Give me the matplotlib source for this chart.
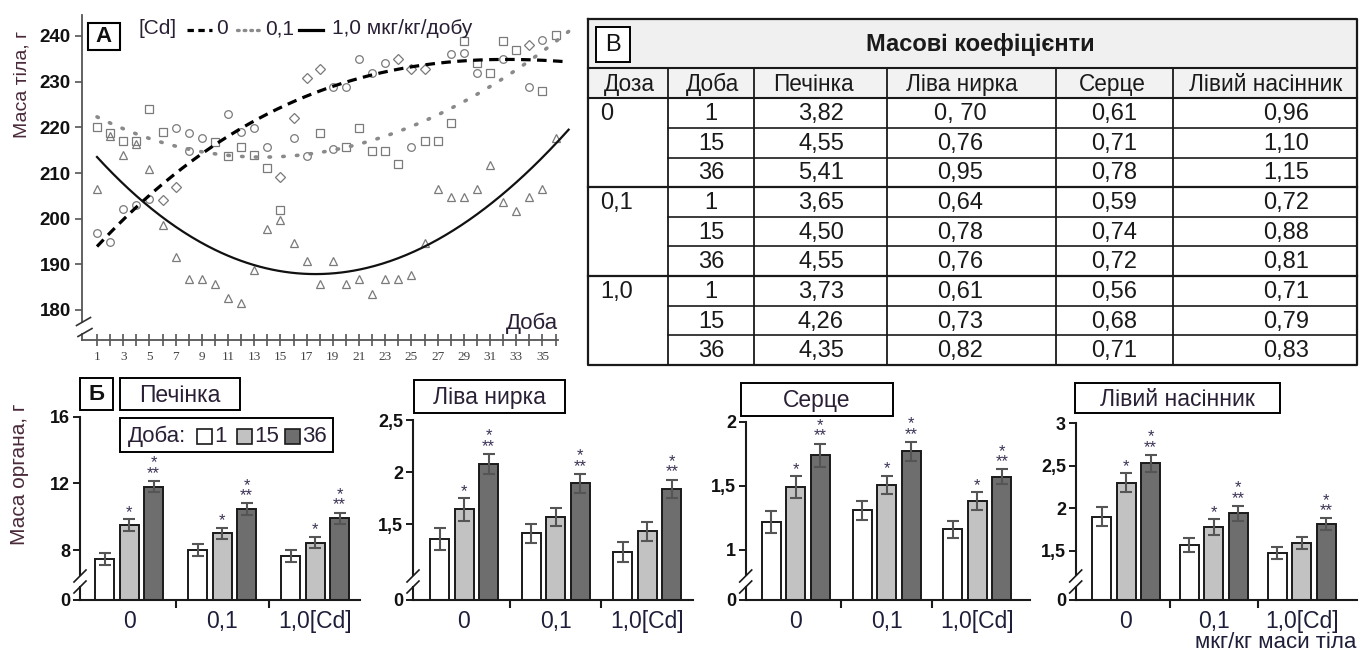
import numpy as np
import matplotlib
matplotlib.use('Agg')
import matplotlib.pyplot as plt
from matplotlib.lines import Line2D
from matplotlib.patches import Rectangle
from matplotlib.transforms import Affine2D

plt.rcParams['font.family'] = ['Liberation Sans', 'DejaVu Sans']

# ---------------- Panel A data (body mass, g) ----------------
circ_day = [1, 2, 3, 4, 5, 7, 8, 8, 9, 11, 12, 13, 14, 16, 17, 19, 19, 20, 21, 22, 23, 25, 28, 29, 30, 32, 34, 35]
circ_val = [196.9, 194.8, 202.1, 203.0, 204.2, 219.8, 218.8, 214.8, 217.7, 222.9, 218.9, 219.9, 215.8, 217.7,
            213.8, 228.8, 215.2, 228.8, 234.9, 231.8, 234.0, 215.8, 236.0, 236.2, 232.0, 234.9, 228.9, 239.1]
diam_day = [6, 7, 15, 16, 17, 18, 24, 25, 26, 34]
diam_val = [204.0, 207.0, 209.2, 222.0, 230.7, 232.7, 234.9, 232.7, 232.7, 238.0]
sq_day = [1, 2, 3, 4, 5, 6, 10, 11, 12, 13, 14, 15, 18, 20, 21, 22, 23, 24, 26, 27, 28, 29, 30, 31, 32, 33, 35, 36]
sq_val = [220.0, 218.8, 216.9, 216.9, 224.0, 219.0, 216.7, 213.8, 215.8, 213.9, 211.0, 202.0, 218.8, 215.8,
          219.9, 214.9, 214.9, 212.0, 216.9, 216.9, 220.9, 238.8, 234.0, 232.0, 238.8, 236.9, 228.0, 240.2]
tri_day = list(range(1, 37))
tri_val = [206.6, 218.0, 214.0, 216.3, 210.9, 198.6, 191.6, 186.8, 186.8, 185.6, 182.6, 181.6, 188.8, 197.7,
           199.7, 194.6, 190.8, 185.6, 190.8, 185.6, 186.7, 183.5, 186.7, 186.7, 187.7, 194.7, 206.6, 204.7,
           204.7, 206.6, 211.8, 203.7, 201.7, 204.7, 206.6, 217.6]

# trend lines (dose 0, 0.1, 1.0)
trend0_day = [1, 5, 10, 15, 20, 25, 30, 37]
trend0_val = [194.0, 205.0, 216.0, 224.5, 230.0, 233.3, 234.5, 234.4]
trend01_day = [1, 4.5, 11, 15, 19, 25, 30, 37]
trend01_val = [222.3, 218.0, 214.0, 213.6, 214.7, 220.5, 227.1, 241.0]
trend10_day = [1, 4.5, 8.2, 13, 15, 18, 21, 26, 30.2, 33.3, 37.1]
trend10_val = [213.6, 204.0, 195.3, 189.8, 188.8, 187.9, 189.1, 194.2, 200.8, 208.5, 220.1]

# ---------------- Panel Б data (organ mass) ----------------
groups = ['0', '0,1', '1,0[Cd]']
organs = ['Печінка', 'Ліва нирка', 'Серце', 'Лівий насінник']
# rows: dose groups; columns: day 1, 15, 36
liver_mean = [[7.45, 9.5, 11.8], [8.0, 9.0, 10.45], [7.65, 8.45, 9.9]]
liver_err = [[0.35, 0.35, 0.34], [0.34, 0.35, 0.35], [0.35, 0.35, 0.35]]
kidney_mean = [[1.36, 1.64, 2.08], [1.41, 1.57, 1.89], [1.23, 1.43, 1.84]]
kidney_err = [[0.105, 0.11, 0.095], [0.09, 0.088, 0.093], [0.093, 0.09, 0.088]]
heart_mean = [[1.22, 1.49, 1.74], [1.31, 1.51, 1.77], [1.16, 1.38, 1.57]]
heart_err = [[0.087, 0.086, 0.09], [0.074, 0.07, 0.073], [0.069, 0.07, 0.058]]
testis_mean = [[1.90, 2.30, 2.53], [1.57, 1.78, 1.94], [1.47, 1.59, 1.81]]
testis_err = [[0.11, 0.11, 0.10], [0.08, 0.09, 0.09], [0.07, 0.075, 0.07]]
star15 = [[1, 1, 1], [1, 0, 0], [1, 1, 1], [1, 1, 0]]
star36 = [[1, 1, 1], [1, 1, 1], [1, 1, 1], [1, 1, 1]]
ylims = [(5, 16), (0.77, 2.5), (0.61, 2.0), (0.92, 3.0)]
ytick_vals = [[5, 8, 12, 16], [0.77, 1.5, 2, 2.5], [0.61, 1, 1.5, 2], [0.92, 1.5, 2, 2.5, 3]]
ytick_labels = [['0', '8', '12', '16'], ['0', '1,5', '2', '2,5'], ['0', '1', '1,5', '2'], ['0', '1,5', '2', '2,5', '3']]
day_labels = ['1', '15', '36']

# ---------------- Panel В data (table) ----------------
doses = ['0', '0,1', '1,0']
table_days = ['1', '15', '36', '1', '15', '36', '1', '15', '36']
coef_liver = ['3,82', '4,55', '5,41', '3,65', '4,50', '4,55', '3,73', '4,26', '4,35']
coef_kidney = ['0, 70', '0,76', '0,95', '0,64', '0,78', '0,76', '0,61', '0,73', '0,82']
coef_heart = ['0,61', '0,71', '0,78', '0,59', '0,74', '0,72', '0,56', '0,68', '0,71']
coef_testis = ['0,96', '1,10', '1,15', '0,72', '0,88', '0,81', '0,71', '0,79', '0,83']
headers = ['Доза', 'Доба', 'Печінка', 'Ліва нирка', 'Серце', 'Лівий насінник']

# ---------------- figure helpers ----------------
W, H = 1359, 652
fig = plt.figure(figsize=(W / 100, H / 100), dpi=100)
PX = Affine2D().scale(1 / W, -1 / H).translate(0, 1) + fig.transFigure

TXT = '#2a2035'
LBL = '#4a2a3a'


def add_ax(l, t, r, b):
    return fig.add_axes([l / W, 1 - b / H, (r - l) / W, (b - t) / H])


def pline(xs, ys, **kw):
    fig.add_artist(Line2D(xs, ys, transform=PX, **kw))


def prect(x, y, w, h, fc='white', ec='black', lw=1.3, z=2):
    fig.add_artist(Rectangle((x, y), w, h, transform=PX, facecolor=fc, edgecolor=ec, linewidth=lw, zorder=z))


def ptext(x, y, s, **kw):
    kw.setdefault('transform', PX)
    fig.text(x, y, s, **kw)


# =============== Panel A ===============
aL, aT, aR, aB = 82, 15, 575, 340
axA = add_ax(aL, aT, aR, aB)
px_day = 13.1
px_g = 274 / 60.0
axA.set_xlim(1 - (97 - aL) / px_day, 1 + (aR - 97) / px_day)
axA.set_ylim(240 - (aB - 36) / px_g, 240 + (36 - aT) / px_g)

mk = dict(linestyle='none', mfc='none', mec='#7a7a7a', mew=0.9, zorder=3)
axA.plot(circ_day, circ_val, marker='o', ms=5.5, **mk)
axA.plot(diam_day, diam_val, marker='D', ms=4.6, **mk)
axA.plot(sq_day, sq_val, marker='s', ms=5.3, **mk)
axA.plot(tri_day, tri_val, marker='^', ms=5.5, **mk)

xx = np.linspace(1, 37, 300)
p0 = np.polyfit(trend0_day, trend0_val, 3)
p01 = np.polyfit(trend01_day, trend01_val, 3)
p10 = np.polyfit(trend10_day, trend10_val, 3)
axA.plot(xx, np.polyval(p0, xx), color='black', lw=2.3, dashes=(3, 2), zorder=4)
axA.plot(xx, np.polyval(p01, xx), color='#8a8a8a', lw=2.6, dashes=(0.4, 3.4),
         dash_capstyle='round', zorder=4)
axA.plot(xx, np.polyval(p10, xx), color='#111111', lw=1.6, zorder=4)

for s in ['top', 'right', 'left']:
    axA.spines[s].set_visible(False)
axA.spines['bottom'].set_color('#555555')
axA.spines['bottom'].set_linewidth(1.3)
axA.spines['bottom'].set_bounds(axA.get_xlim()[0], 36.2)
axA.set_yticks([180, 190, 200, 210, 220, 230, 240])
axA.set_yticklabels(['180', '190', '200', '210', '220', '230', '240'], fontsize=13.5, fontweight='bold', color='#111')
axA.tick_params(axis='y', direction='out', length=5, width=1.2, color='#555555', pad=3)
axA.set_xticks(list(range(1, 37, 2)))
axA.set_xticklabels([str(d) for d in range(1, 37, 2)], fontsize=9.5, color='#444444',
                    family=['Liberation Serif', 'DejaVu Serif'])
axA.set_xticks(list(range(2, 37, 2)), minor=True)
axA.tick_params(axis='x', which='both', direction='inout', length=8, width=1.2, color='#555555', pad=4)
axA.patch.set_alpha(0)

# left spine with break
pline([aL, aL], [aB, 334], color='#555555', lw=1.3)
pline([aL, aL], [322, aT], color='#555555', lw=1.3)
pline([76.5, 90.5], [325.5, 317.5], color='#333333', lw=1.2)
pline([78, 92], [336.5, 328.5], color='#333333', lw=1.2)

# box "А"
prect(88, 23, 32, 27, lw=1.5)
ptext(104, 37, 'А', ha='center', va='center', fontsize=16, fontweight='bold', color='#111', zorder=5)
# legend
ptext(138, 28, '[Cd]', ha='left', va='center', fontsize=15, color=TXT)
pline([187, 212], [30, 30], color='black', lw=2.3, dashes=(2, 1.4))
ptext(216, 29, '0', ha='left', va='center', fontsize=15, color=TXT)
pline([237, 262], [30, 30], color='#8a8a8a', lw=2.4, dashes=(0.5, 1.5), dash_capstyle='round')
ptext(265, 29, '0,1', ha='left', va='center', fontsize=15, color=TXT)
pline([299, 323], [30, 30], color='black', lw=2.3)
ptext(332, 29, '1,0 мкг/кг/добу', ha='left', va='center', fontsize=15, color=TXT)
ptext(558, 323, 'Доба', ha='right', va='center', fontsize=16, color=TXT)
ptext(22, 84, 'Маса тіла, г', ha='center', va='center', rotation=90, fontsize=14, color=LBL)

# =============== Panel В (table) ===============
col_x = [588, 668, 754, 887, 1056, 1173, 1357]
t_top, t_title, t_head = 19, 68.3, 98.3
t_bot = 365
row_h = (t_bot - t_head) / 9.0
prect(col_x[0], t_top, col_x[-1] - col_x[0], t_title - t_top, fc='#f0f0f0', lw=0, z=1)
prect(col_x[0], t_title, col_x[-1] - col_x[0], t_head - t_title, fc='#f2f2f2', lw=0, z=1)
lc = '#1a1a1a'
# outer border
pline([col_x[0], col_x[-1], col_x[-1], col_x[0], col_x[0]], [t_top, t_top, t_bot, t_bot, t_top], color=lc, lw=1.6)
pline([col_x[0], col_x[-1]], [t_title, t_title], color=lc, lw=1.5)
pline([col_x[0], col_x[-1]], [t_head, t_head], color=lc, lw=1.5)
for cx in col_x[1:-1]:
    pline([cx, cx], [t_title, t_bot], color=lc, lw=1.3)
for i in range(1, 9):
    y = t_head + i * row_h
    if i % 3 == 0:
        pline([col_x[0], col_x[-1]], [y, y], color=lc, lw=1.6)
    else:
        pline([col_x[1], col_x[-1]], [y, y], color=lc, lw=1.2)
prect(596, 27, 34, 35, lw=1.4)
ptext(613, 45, 'В', ha='center', va='center', fontsize=17, color='#111', zorder=5)
ptext(980, 44, 'Масові коефіцієнти', ha='center', va='center', fontsize=17, fontweight='bold', color='#1a1a1a')
head_cx = [629, 712, 813, 962, 1112, 1266]
for hx, h in zip(head_cx, headers):
    ptext(hx, (t_title + t_head) / 2 + 1, h, ha='center', va='center', fontsize=16.3, color='#1a1a1a')
val_cx = [711, 821, 960, 1114, 1286]
cols = [table_days, coef_liver, coef_kidney, coef_heart, coef_testis]
for r in range(9):
    yc = t_head + (r + 0.5) * row_h + 1
    if r % 3 == 0:
        ptext(600, yc, doses[r // 3], ha='left', va='center', fontsize=17, color='#1a1a1a')
    for cx, col in zip(val_cx, cols):
        ptext(cx, yc, col[r], ha='center', va='center', fontsize=17, color='#1a1a1a')

# =============== Panel Б (bars) ===============
ax_px = [(80, 416.7, 360, 600), (413, 420, 693, 600), (745.7, 421.7, 1030, 600), (1075.7, 423.3, 1357, 600)]
unit_px = [93, 91.65, 90.8, 87.85]
c0_px = [129, 464, 795.7, 1126]
means = [liver_mean, kidney_mean, heart_mean, testis_mean]
errs = [liver_err, kidney_err, heart_err, testis_err]
bar_cols = ['white', '#c2c2c2', '#6e6e6e']
title_boxes = [(120, 378, 120, 32), (414, 380, 151, 33), (741, 383, 152, 33), (1075, 383, 205, 30)]
STAR = '#3b3155'

for k in range(4):
    l, t, r, b = ax_px[k]
    ax = add_ax(l, t, r, b)
    u = unit_px[k]
    ax.set_xlim((l - c0_px[k]) / u, (r - c0_px[k]) / u)
    ax.set_ylim(*ylims[k])
    bw = 19.0 / u
    off = 24.5 / u
    m = np.array(means[k])
    e = np.array(errs[k])
    gx = np.arange(3)
    for d in range(3):
        xs = gx + (d - 1) * off
        ax.bar(xs, m[:, d], width=bw, color=bar_cols[d], edgecolor='#1a1a1a', linewidth=1.4, zorder=2)
        ax.errorbar(xs, m[:, d], yerr=e[:, d], fmt='none', ecolor='#555555', elinewidth=1.5,
                    capsize=4, capthick=1.5, zorder=3)
        for g in range(3):
            top = m[g, d] + e[g, d]
            if d == 1 and star15[k][g]:
                ax.annotate('*', xy=(xs[g], top), xytext=(0, 1.5), textcoords='offset points',
                            ha='center', va='baseline', fontsize=12, color=STAR)
            if d == 2 and star36[k][g]:
                ax.annotate('*\n**', xy=(xs[g], top), xytext=(0, 2.2), textcoords='offset points',
                            ha='center', va='baseline', multialignment='center', linespacing=0.62,
                            fontsize=12, color=STAR)
    for s in ['top', 'right', 'left']:
        ax.spines[s].set_visible(False)
    ax.spines['bottom'].set_linewidth(1.5)
    ax.spines['bottom'].set_color('#1a1a1a')
    ax.set_xticks(gx)
    ax.set_xticklabels(groups, fontsize=16.5, color='#1e1e3a')
    ax.tick_params(axis='x', which='major', length=0, pad=7)
    ax.set_xticks([0.5, 1.5], minor=True)
    ax.tick_params(axis='x', which='minor', direction='out', length=6, width=1.5, color='#1a1a1a')
    ax.set_yticks(ytick_vals[k])
    ax.set_yticklabels(ytick_labels[k], fontsize=13, fontweight='bold', color='#111')
    ax.tick_params(axis='y', direction='out', length=5, width=1.4, color='#1a1a1a', pad=2)
    ax.patch.set_alpha(0)
    # left spine with break
    pline([l, l], [600, 587], color='#1a1a1a', lw=1.5)
    pline([l, l], [575, t], color='#1a1a1a', lw=1.5)
    pline([l - 6, l + 6], [593, 581], color='#1a1a1a', lw=1.2)
    pline([l - 6, l + 6], [582, 570], color='#1a1a1a', lw=1.2)
    # organ title box
    bx, by, bwid, bh = title_boxes[k]
    prect(bx, by, bwid, bh, lw=1.4)
    ptext(bx + bwid / 2, by + bh / 2 + 1, organs[k], ha='center', va='center', fontsize=16.5, color=TXT, zorder=5)

# "Б" box and legend
prect(80, 378, 33, 32, lw=1.4)
ptext(96.5, 395, 'Б', ha='center', va='center', fontsize=16, fontweight='bold', color='#111', zorder=5)
prect(120, 418, 213, 34, lw=1.4)
ptext(128, 436, 'Доба:', ha='left', va='center', fontsize=16, color=TXT, zorder=5)
leg_x = [197, 237, 285]
for lx, c, lab in zip(leg_x, bar_cols, day_labels):
    prect(lx, 429, 15, 15, fc=c, ec='#1a1a1a', lw=1.2, z=5)
    ptext(lx + 17, 436, lab, ha='left', va='center', fontsize=16, color=TXT, zorder=5)

ptext(20, 474, 'Маса органа, г', ha='center', va='center', rotation=90, fontsize=15, color=LBL)
ptext(1356, 643, 'мкг/кг маси тіла', ha='right', va='center', fontsize=16, color='#1e1e3a')

fig.savefig('out.png', dpi=100)
